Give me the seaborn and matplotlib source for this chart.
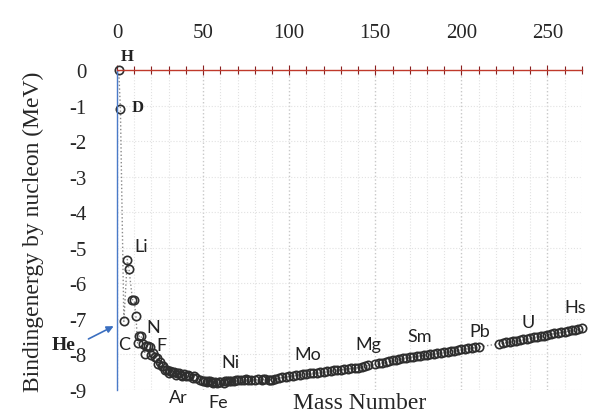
import seaborn as sns
import pandas as pd
import matplotlib.pyplot as plt
from matplotlib.ticker import MultipleLocator

# mass number and binding energy by nucleon (MeV)
mass = [1, 2, 4, 6, 7, 9, 10, 11, 12, 13, 14, 15, 16, 17, 18, 19, 20, 21, 22, 23,
        24, 25, 26, 27, 28, 29, 30, 31, 32, 33, 34, 35, 36, 37, 38, 39, 40, 41, 42, 44,
        45, 46, 48, 50, 51, 52, 53, 54, 55, 56, 57, 58, 59, 60, 62, 63, 64, 65, 66, 68,
        69, 70, 72, 74, 75, 76, 78, 80, 82, 84, 85, 86, 88, 89, 90, 92, 94, 96, 98, 100,
        102, 104, 106, 108, 110, 112, 114, 116, 118, 120, 122, 124, 126, 128, 130, 132,
        134, 136, 138, 140, 142, 144, 146, 150, 152, 154, 156, 158, 160, 162, 164, 166,
        168, 170, 172, 174, 176, 178, 180, 182, 184, 186, 188, 190, 192, 194, 196, 198,
        200, 202, 204, 206, 208, 210, 222, 224, 226, 228, 230, 232, 234, 236, 238, 240,
        242, 244, 246, 248, 250, 252, 254, 256, 258, 260, 262, 264, 266, 268, 270]
energy = [0.0, -1.11, -7.07, -5.33, -5.61, -6.46, -6.48, -6.93, -7.68, -7.47, -7.48,
          -7.70, -7.98, -7.75, -7.77, -7.78, -8.03, -7.97, -8.08, -8.11, -8.26, -8.22,
          -8.33, -8.33, -8.45, -8.45, -8.52, -8.48, -8.49, -8.50, -8.58, -8.52, -8.52,
          -8.57, -8.61, -8.56, -8.60, -8.58, -8.62, -8.66, -8.62, -8.67, -8.72, -8.74,
          -8.74, -8.78, -8.76, -8.74, -8.77, -8.79, -8.77, -8.79, -8.77, -8.78, -8.79,
          -8.75, -8.74, -8.76, -8.76, -8.76, -8.72, -8.73, -8.73, -8.73, -8.70, -8.71,
          -8.72, -8.71, -8.70, -8.72, -8.70, -8.70, -8.73, -8.71, -8.71, -8.69, -8.67,
          -8.64, -8.64, -8.61, -8.60, -8.58, -8.57, -8.55, -8.55, -8.52, -8.53, -8.51,
          -8.50, -8.50, -8.47, -8.47, -8.45, -8.44, -8.43, -8.41, -8.40, -8.39, -8.38,
          -8.37, -8.35, -8.33, -8.31, -8.28, -8.25, -8.23, -8.21, -8.19, -8.17, -8.15,
          -8.13, -8.11, -8.10, -8.08, -8.07, -8.05, -8.04, -8.02, -8.01, -7.99, -7.98,
          -7.96, -7.95, -7.93, -7.92, -7.90, -7.89, -7.87, -7.86, -7.84, -7.83, -7.82,
          -7.80, -7.79, -7.70, -7.68, -7.66, -7.65, -7.63, -7.61, -7.60, -7.58, -7.56,
          -7.54, -7.52, -7.50, -7.49, -7.47, -7.45, -7.43, -7.41, -7.40, -7.38, -7.36,
          -7.34, -7.32, -7.31, -7.29, -7.27]

# element labels (sans) and their positions
sans_labels = ["Li", "N", "F", "C", "Ar", "Fe", "Ni", "Mo", "Mg", "Sm", "Pb", "U", "Hs"]
sans_x = [13.9, 20.9, 26.1, 4.1, 35.4, 58.6, 65.6, 110.9, 145.7, 176.0, 210.8, 238.6, 266.0]
sans_y = [-4.95, -7.23, -7.74, -7.71, -9.2, -9.34, -8.21, -7.99, -7.71, -7.48, -7.34, -7.09, -6.67]

# bold serif labels
bold_labels = ["H", "D"]
bold_x = [5.8, 12.2]
bold_y = [0.39, -1.04]

df = pd.DataFrame({"A": mass, "E": energy})

sns.set_style("white")
plt.rcParams["font.family"] = ["Liberation Serif", "DejaVu Serif"]
plt.rcParams["axes.unicode_minus"] = False

fig = plt.figure(figsize=(5.89, 4.14), dpi=100)
ax = fig.add_axes([0.1986, 0.0556, 0.7894, 0.7729])

sns.lineplot(data=df, x="A", y="E", ax=ax, sort=False, estimator=None,
             color="#8a8a8a", linestyle=":", linewidth=1.0,
             marker="o", markersize=6, markerfacecolor="none",
             markeredgecolor="#2e2e2e", markeredgewidth=1.2, clip_on=False)

ax.set_xlim(0, 270)
ax.set_ylim(-9, 0)

# grid
ax.xaxis.set_major_locator(MultipleLocator(50))
ax.xaxis.set_minor_locator(MultipleLocator(10))
ax.yaxis.set_major_locator(MultipleLocator(1))
ax.yaxis.set_minor_locator(MultipleLocator(0.2))
ax.grid(which="major", axis="x", color="#c8c8c8", linestyle=":", linewidth=1.0)
ax.grid(which="minor", axis="x", color="#e2e2e2", linestyle=":", linewidth=0.8)
ax.grid(which="major", axis="y", color="#e2e2e2", linestyle=":", linewidth=0.8)

# axes lines: red at y=0 (top), blue at x=0 (left)
for side in ["right", "bottom"]:
    ax.spines[side].set_visible(False)
ax.spines["top"].set_color("#c0392b")
ax.spines["top"].set_linewidth(1.0)
ax.spines["left"].set_color("#4a7ac8")
ax.spines["left"].set_linewidth(1.0)

ax.xaxis.tick_top()
ax.tick_params(axis="x", which="both", direction="inout", color="#8b2020",
               length=7, width=0.8, pad=17, labelsize=15)
ax.tick_params(axis="x", which="minor", length=6)
ax.tick_params(axis="y", which="both", direction="inout", color="#4a7ac8",
               length=6, width=0.8, pad=19, labelsize=15)
ax.set_xlabel("")
ax.set_ylabel("")

for lab, x, y in zip(sans_labels, sans_x, sans_y):
    ax.text(x, y, lab, family=["Lato", "DejaVu Sans"], fontsize=13, color="#222222",
            ha="center", va="center", clip_on=False)
for lab, x, y in zip(bold_labels, bold_x, bold_y):
    ax.text(x, y, lab, fontsize=12, fontweight="bold", color="#222222",
            ha="center", va="center", clip_on=False)

ax.text(-31, -7.72, "He", fontsize=14, fontweight="bold", color="#222222",
        ha="center", va="center", clip_on=False)
ax.annotate("", xy=(-0.5, -7.17), xytext=(-18, -7.6),
            arrowprops=dict(arrowstyle="-|>", color="#3b6fc0", lw=1.2),
            annotation_clip=False)

fig.text(360 / 589, 1 - 404 / 414, "Mass Number", fontsize=17, ha="center", va="center")
fig.text(33 / 589, 1 - 232 / 414, "Bindingenergy by nucleon (MeV)", fontsize=17,
         rotation=90, ha="center", va="center")

plt.savefig("out.png", dpi=100)
